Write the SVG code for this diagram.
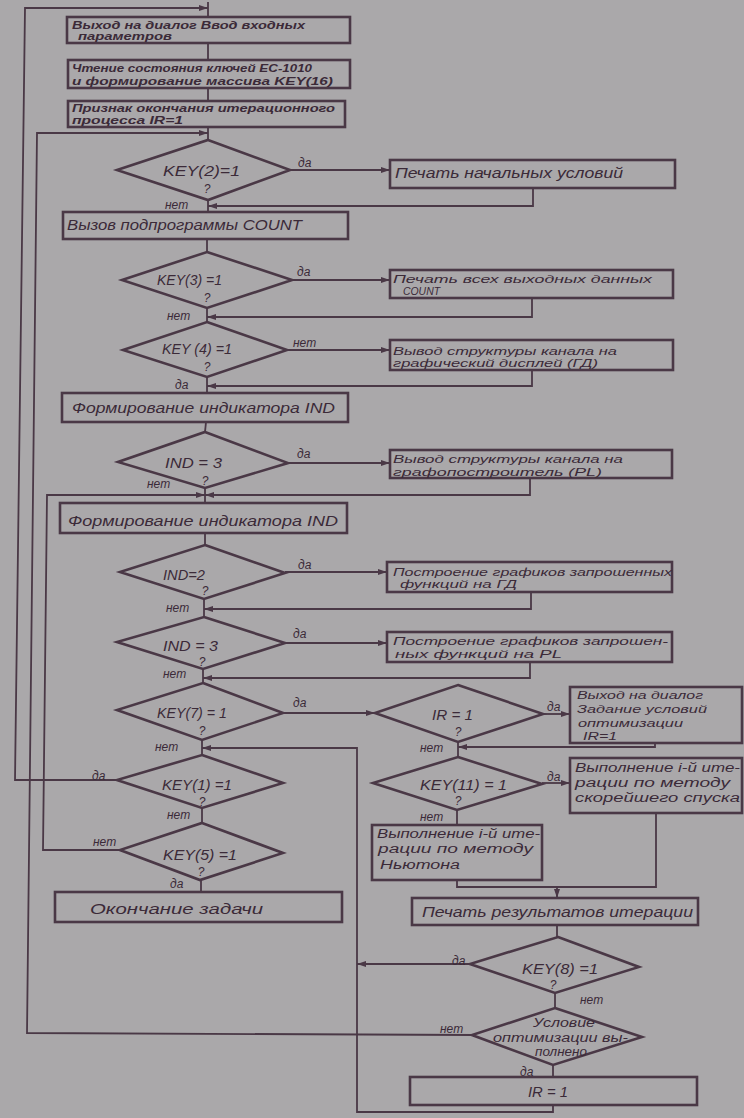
<svg xmlns="http://www.w3.org/2000/svg" width="744" height="1118" viewBox="0 0 744 1118">
<defs>
<style>
.b{fill:none;stroke:#4a3846;stroke-width:2.6}
.c{fill:none;stroke:#4a3846;stroke-width:1.8}
.t{font-family:"Liberation Sans",Arial,sans-serif;font-style:italic;font-size:14px;fill:#3b2a38}
.q{font-family:"Liberation Sans",Arial,sans-serif;font-style:italic;font-size:12px;fill:#3b2a38;text-anchor:middle}
.s{font-family:"Liberation Sans",Arial,sans-serif;font-style:italic;font-size:11px;fill:#3b2a38}
.s2{font-family:"Liberation Sans",Arial,sans-serif;font-style:italic;font-size:12.5px;fill:#3b2a38}
.tb{font-family:"Liberation Sans",Arial,sans-serif;font-style:italic;font-weight:bold;font-size:10.5px;fill:#3b2a38}
.l{font-family:"Liberation Sans",Arial,sans-serif;font-style:italic;font-size:12px;fill:#3b2a38}
</style>
<marker id="a" markerWidth="9" markerHeight="6" refX="9" refY="3" orient="auto" markerUnits="userSpaceOnUse"><path d="M0,0 L9,3 L0,6 z" fill="#4a3846"/></marker>
</defs>
<rect width="744" height="1118" fill="#aaa8aa"/>

<g id="connectors">
<path class="c" d="M117,780 L15,780 L25,8 L208,8" marker-end="url(#a)"/>
<path class="c" d="M208,2 L208,17"/>
<path class="c" d="M208,43 L208,60"/>
<path class="c" d="M208,88 L208,101"/>
<path class="c" d="M208,127 L208,140"/>
<path class="c" d="M472,1035 L27,1033 L37,133 L208,133" marker-end="url(#a)"/>
<path class="c" d="M290,170 L390,170" marker-end="url(#a)"/>
<path class="c" d="M533,188 L533,206 L208,206" marker-end="url(#a)"/>
<path class="c" d="M208,200 L208,212"/>
<path class="c" d="M207,239 L207,252"/>
<path class="c" d="M292,280 L390,280" marker-end="url(#a)"/>
<path class="c" d="M532,298 L532,317 L207,317" marker-end="url(#a)"/>
<path class="c" d="M207,308 L207,322"/>
<path class="c" d="M287,350 L390,350" marker-end="url(#a)"/>
<path class="c" d="M532,370 L532,386 L207,386" marker-end="url(#a)"/>
<path class="c" d="M207,377 L207,393"/>
<path class="c" d="M206,422 L205,432"/>
<path class="c" d="M288,463 L390,463" marker-end="url(#a)"/>
<path class="c" d="M530,478 L530,495 L205,495" marker-end="url(#a)"/>
<path class="c" d="M120,850 L43,850 L47,495 L205,495" marker-end="url(#a)"/>
<path class="c" d="M205,488 L205,503"/>
<path class="c" d="M205,533 L205,545"/>
<path class="c" d="M285,572 L387,572" marker-end="url(#a)"/>
<path class="c" d="M531,592 L531,609 L204,609" marker-end="url(#a)"/>
<path class="c" d="M204,599 L204,617"/>
<path class="c" d="M285,643 L387,643" marker-end="url(#a)"/>
<path class="c" d="M530,662 L530,678 L203,678" marker-end="url(#a)"/>
<path class="c" d="M203,669 L203,683"/>
<path class="c" d="M283,713 L375,713" marker-end="url(#a)"/>
<path class="c" d="M553,1105 L553,1112 L357,1112 L357,748 L202,748" marker-end="url(#a)"/>
<path class="c" d="M202,740 L202,755"/>
<path class="c" d="M202,808 L202,823"/>
<path class="c" d="M201,880 L201,892"/>
<path class="c" d="M543,714 L570,714" marker-end="url(#a)"/>
<path class="c" d="M655,743 L655,747 L458,747" marker-end="url(#a)"/>
<path class="c" d="M458,742 L458,757"/>
<path class="c" d="M542,783 L570,783" marker-end="url(#a)"/>
<path class="c" d="M457,810 L457,825"/>
<path class="c" d="M457,880 L457,887 L656,887 L656,813"/>
<path class="c" d="M557,887 L557,898" marker-end="url(#a)"/>
<path class="c" d="M557,925 L557,937"/>
<path class="c" d="M470,964 L357,964" marker-end="url(#a)"/>
<path class="c" d="M555,993 L555,1008"/>
<path class="c" d="M553,1065 L553,1077"/>
</g>

<g id="labels">
<text class="l" x="298" y="167">да</text>
<text class="l" x="165" y="209">нет</text>
<text class="l" x="297" y="276">да</text>
<text class="l" x="167" y="320">нет</text>
<text class="l" x="293" y="347">нет</text>
<text class="l" x="175" y="389">да</text>
<text class="l" x="297" y="458">да</text>
<text class="l" x="147" y="488">нет</text>
<text class="l" x="298" y="569">да</text>
<text class="l" x="166" y="612">нет</text>
<text class="l" x="293" y="638">да</text>
<text class="l" x="163" y="678">нет</text>
<text class="l" x="293" y="707">да</text>
<text class="l" x="155" y="751">нет</text>
<text class="l" x="92" y="780">да</text>
<text class="l" x="167" y="819">нет</text>
<text class="l" x="93" y="846">нет</text>
<text class="l" x="170" y="888">да</text>
<text class="l" x="547" y="711">да</text>
<text class="l" x="420" y="752">нет</text>
<text class="l" x="547" y="781">да</text>
<text class="l" x="420" y="821">нет</text>
<text class="l" x="452" y="965">да</text>
<text class="l" x="580" y="1004">нет</text>
<text class="l" x="440" y="1033">нет</text>
<text class="l" x="520" y="1076">да</text>
</g>

<g id="n1"><rect class="b" x="67" y="17" width="283" height="26"/>
<text class="tb" x="72" y="29" textLength="233" lengthAdjust="spacingAndGlyphs">Выход на диалог  Ввод входных</text>
<text class="tb" x="78" y="40" textLength="94" lengthAdjust="spacingAndGlyphs">параметров</text></g>

<g id="n2"><rect class="b" x="68" y="60" width="282" height="28"/>
<text class="tb" x="72" y="72" textLength="240" lengthAdjust="spacingAndGlyphs">Чтение состояния ключей ЕС-1010</text>
<text class="tb" x="72" y="85" textLength="261" lengthAdjust="spacingAndGlyphs">и формирование массива  KEY(16)</text></g>

<g id="n3"><rect class="b" x="68" y="101" width="277" height="26"/>
<text class="tb" x="72" y="112" textLength="263" lengthAdjust="spacingAndGlyphs">Признак окончания итерационного</text>
<text class="tb" x="72" y="124" textLength="111" lengthAdjust="spacingAndGlyphs">процесса  IR=1</text></g>

<g id="d_key2"><polygon class="b" points="208,140 290,170 208,200 117,170"/>
<text class="t" x="163" y="176" textLength="77" lengthAdjust="spacingAndGlyphs">KEY(2)=1</text>
<text class="q" x="207" y="193">?</text></g>

<g id="n_print_init"><rect class="b" x="390" y="160" width="285" height="28"/>
<text class="t" x="395" y="178" textLength="228" lengthAdjust="spacingAndGlyphs">Печать начальных условий</text></g>

<g id="n_count"><rect class="b" x="63" y="212" width="285" height="27"/>
<text class="t" x="67" y="230" textLength="235" lengthAdjust="spacingAndGlyphs">Вызов подпрограммы COUNT</text></g>

<g id="d_key3"><polygon class="b" points="207,252 292,280 207,308 122,280"/>
<text class="t" x="157" y="285" textLength="65" lengthAdjust="spacingAndGlyphs">KEY(3) =1</text>
<text class="q" x="207" y="302">?</text></g>

<g id="n_print_all"><rect class="b" x="390" y="270" width="283" height="28"/>
<text class="s" x="393" y="283" textLength="259" lengthAdjust="spacingAndGlyphs">Печать всех выходных данных</text>
<text class="s" x="403" y="295" textLength="37" lengthAdjust="spacingAndGlyphs">COUNT</text></g>

<g id="d_key4"><polygon class="b" points="207,322 287,350 207,377 123,350"/>
<text class="t" x="162" y="354" textLength="70" lengthAdjust="spacingAndGlyphs">KEY (4) =1</text>
<text class="q" x="207" y="371">?</text></g>

<g id="n_gd_struct"><rect class="b" x="390" y="340" width="283" height="30"/>
<text class="s" x="393" y="355" textLength="224" lengthAdjust="spacingAndGlyphs">Вывод структуры канала на</text>
<text class="s" x="393" y="367" textLength="205" lengthAdjust="spacingAndGlyphs">графический дисплей (ГД)</text></g>

<g id="n_ind1"><rect class="b" x="62" y="393" width="286" height="29"/>
<text class="t" x="72" y="413" textLength="263" lengthAdjust="spacingAndGlyphs">Формирование индикатора IND</text></g>

<g id="d_ind3a"><polygon class="b" points="205,432 288,463 205,488 118,462"/>
<text class="t" x="165" y="468" textLength="57" lengthAdjust="spacingAndGlyphs">IND = 3</text>
<text class="q" x="205" y="485">?</text></g>

<g id="n_pl_struct"><rect class="b" x="390" y="450" width="282" height="28"/>
<text class="s" x="393" y="463" textLength="230" lengthAdjust="spacingAndGlyphs">Вывод структуры канала на</text>
<text class="s" x="393" y="476" textLength="209" lengthAdjust="spacingAndGlyphs">графопостроитель (PL)</text></g>

<g id="n_ind2"><rect class="b" x="60" y="503" width="287" height="30"/>
<text class="t" x="68" y="526" textLength="270" lengthAdjust="spacingAndGlyphs">Формирование индикатора IND</text></g>

<g id="d_ind2"><polygon class="b" points="205,545 285,573 204,599 120,572"/>
<text class="t" x="163" y="580" textLength="42" lengthAdjust="spacingAndGlyphs">IND=2</text>
<text class="q" x="205" y="595">?</text></g>

<g id="n_plot_gd"><rect class="b" x="387" y="562" width="285" height="30"/>
<text class="s" x="393" y="576" textLength="279" lengthAdjust="spacingAndGlyphs">Построение графиков запрошенных</text>
<text class="s" x="400" y="588" textLength="117" lengthAdjust="spacingAndGlyphs">функций на ГД</text></g>

<g id="d_ind3b"><polygon class="b" points="204,617 285,643 203,669 117,642"/>
<text class="t" x="163" y="651" textLength="55" lengthAdjust="spacingAndGlyphs">IND = 3</text>
<text class="q" x="202" y="666">?</text></g>

<g id="n_plot_pl"><rect class="b" x="387" y="632" width="285" height="30"/>
<text class="s" x="393" y="645" textLength="275" lengthAdjust="spacingAndGlyphs">Построение графиков запрошен-</text>
<text class="s" x="395" y="658" textLength="167" lengthAdjust="spacingAndGlyphs">ных функций на PL</text></g>

<g id="d_key7"><polygon class="b" points="203,683 283,713 202,740 117,710"/>
<text class="t" x="157" y="718" textLength="70" lengthAdjust="spacingAndGlyphs">KEY(7) = 1</text>
<text class="q" x="202" y="735">?</text></g>

<g id="d_key1"><polygon class="b" points="202,755 283,783 202,808 117,780"/>
<text class="t" x="162" y="790" textLength="70" lengthAdjust="spacingAndGlyphs">KEY(1) =1</text>
<text class="q" x="202" y="806">?</text></g>

<g id="d_key5"><polygon class="b" points="202,823 283,853 200,880 120,850"/>
<text class="t" x="163" y="860" textLength="74" lengthAdjust="spacingAndGlyphs">KEY(5) =1</text>
<text class="q" x="201" y="876">?</text></g>

<g id="n_end"><rect class="b" x="55" y="892" width="287" height="30"/>
<text class="t" x="90" y="914" textLength="173" lengthAdjust="spacingAndGlyphs">Окончание  задачи</text></g>

<g id="d_ir1"><polygon class="b" points="458,685 543,714 458,742 375,713"/>
<text class="t" x="432" y="720" textLength="41" lengthAdjust="spacingAndGlyphs">IR = 1</text>
<text class="q" x="458" y="736">?</text></g>

<g id="n_dialog_opt"><rect class="b" x="570" y="687" width="172" height="56"/>
<text class="s" x="577" y="699" textLength="126" lengthAdjust="spacingAndGlyphs">Выход на диалог</text>
<text class="s" x="577" y="713" textLength="130" lengthAdjust="spacingAndGlyphs">Задание условий</text>
<text class="s" x="578" y="727" textLength="105" lengthAdjust="spacingAndGlyphs">оптимизации</text>
<text class="s" x="583" y="740" textLength="34" lengthAdjust="spacingAndGlyphs">IR=1</text></g>

<g id="d_key11"><polygon class="b" points="458,757 542,784 457,810 373,783"/>
<text class="t" x="420" y="790" textLength="87" lengthAdjust="spacingAndGlyphs">KEY(11) = 1</text>
<text class="q" x="458" y="805">?</text></g>

<g id="n_steepest"><rect class="b" x="570" y="758" width="172" height="55"/>
<text class="s2" x="575" y="772" textLength="165" lengthAdjust="spacingAndGlyphs">Выполнение i-й ите-</text>
<text class="s2" x="575" y="787" textLength="155" lengthAdjust="spacingAndGlyphs">рации по методу</text>
<text class="s2" x="575" y="802" textLength="165" lengthAdjust="spacingAndGlyphs">скорейшего спуска</text></g>

<g id="n_newton"><rect class="b" x="372" y="825" width="170" height="55"/>
<text class="s2" x="377" y="838" textLength="163" lengthAdjust="spacingAndGlyphs">Выполнение i-й ите-</text>
<text class="s2" x="378" y="853" textLength="155" lengthAdjust="spacingAndGlyphs">рации по методу</text>
<text class="s2" x="380" y="869" textLength="80" lengthAdjust="spacingAndGlyphs">Ньютона</text></g>

<g id="n_print_res"><rect class="b" x="412" y="898" width="286" height="27"/>
<text class="t" x="422" y="917" textLength="271" lengthAdjust="spacingAndGlyphs">Печать результатов итерации</text></g>

<g id="d_key8"><polygon class="b" points="558,937 639,967 555,993 470,964"/>
<text class="t" x="522" y="974" textLength="76" lengthAdjust="spacingAndGlyphs">KEY(8) =1</text>
<text class="q" x="553" y="989">?</text></g>

<g id="d_opt"><polygon class="b" points="555,1008 642,1037 553,1065 472,1035"/>
<text class="s2" x="533" y="1027" textLength="62" lengthAdjust="spacingAndGlyphs">Условие</text>
<text class="s2" x="493" y="1042" textLength="135" lengthAdjust="spacingAndGlyphs">оптимизации вы-</text>
<text class="s2" x="535" y="1056" textLength="52" lengthAdjust="spacingAndGlyphs">полнено</text></g>

<g id="n_ir_set"><rect class="b" x="410" y="1077" width="287" height="28"/>
<text class="t" x="528" y="1097" textLength="40" lengthAdjust="spacingAndGlyphs">IR = 1</text></g>
</svg>
